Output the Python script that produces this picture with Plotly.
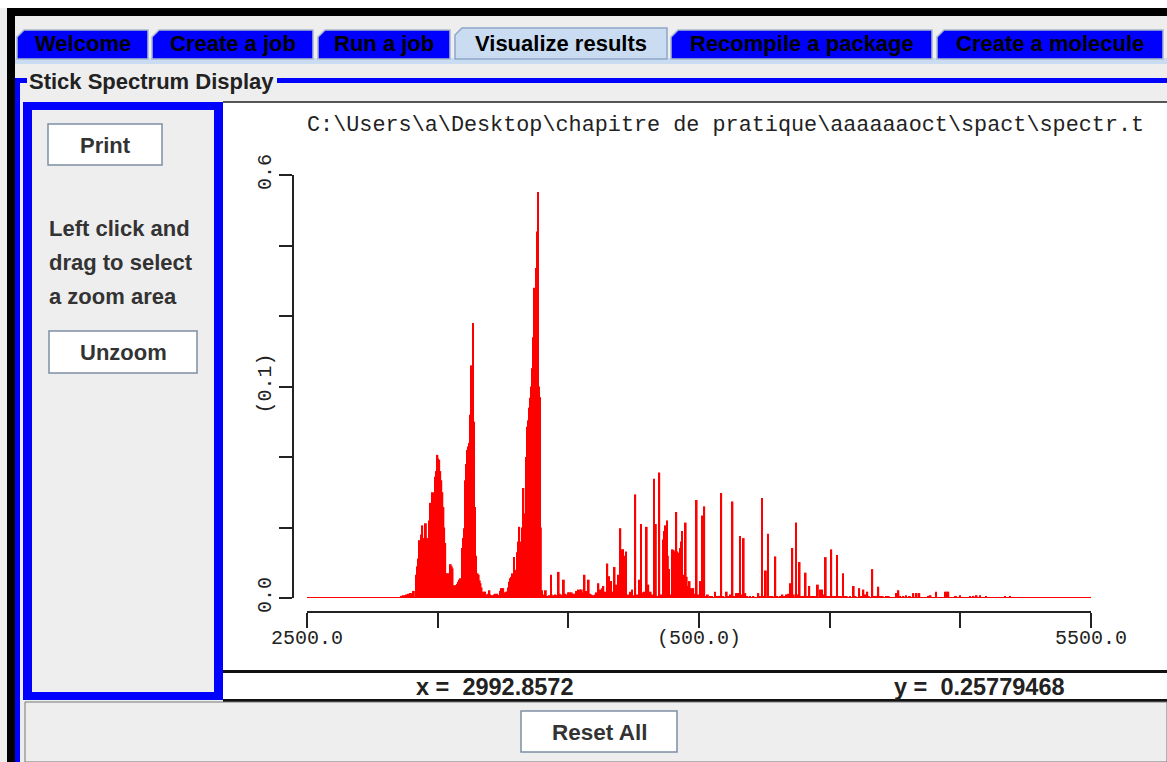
import plotly.graph_objects as go

W, H = 1167, 762

# ---------------- data ----------------
wavenumber = [
    2862, 2869, 2875, 2881, 2888, 2894, 2900, 2909, 2917, 2922, 2926, 2932, 2937, 2941, 2945, 2949,
    2953, 2955, 2962, 2967, 2971, 2974, 2978, 2983, 2987, 2991, 2995, 2999, 3002, 3006, 3010, 3014,
    3018, 3022, 3025, 3029, 3034, 3039, 3045, 3050, 3054, 3057, 3062, 3068, 3073, 3076, 3080, 3085,
    3088, 3093, 3097, 3101, 3105, 3107, 3111, 3113, 3117, 3121, 3125, 3128, 3131, 3135, 3139, 3143,
    3147, 3149, 3153, 3157, 3161, 3164, 3168, 3172, 3177, 3182, 3186, 3190, 3194, 3198, 3201, 3205,
    3209, 3213, 3217, 3221, 3224, 3228, 3232, 3236, 3240, 3244, 3247, 3251, 3255, 3259, 3263, 3267,
    3270, 3274, 3278, 3282, 3287, 3292, 3296, 3300, 3305, 3309, 3312, 3316, 3320, 3324, 3328, 3332,
    3335, 3339, 3342, 3346, 3348, 3352, 3356, 3360, 3362, 3366, 3369, 3372, 3376, 3380, 3384, 3388,
    3392, 3395, 3399, 3403, 3407, 3411, 3414, 3418, 3422, 3427, 3434, 3437, 3443, 3446, 3450, 3455,
    3463, 3467, 3471, 3476, 3483, 3487, 3494, 3500, 3506, 3513, 3519, 3525, 3532, 3538,
    3545, 3551, 3557, 3562, 3570, 3578, 3583, 3588, 3596, 3602, 3608, 3615, 3619, 3624, 3629, 3634,
    3642, 3649, 3656, 3663, 3670, 3677, 3685, 3693, 3699, 3705, 3709, 3713, 3717, 3721, 3728, 3736,
    3744, 3750, 3756, 3764, 3772, 3778, 3787, 3793, 3800, 3806, 3815, 3821, 3828, 3835, 3842, 3848,
    3857, 3863, 3867, 3871, 3878, 3881, 3885, 3892, 3899, 3903, 3907, 3913, 3917, 3921, 3927, 3931,
    3935, 3941, 3949, 3953, 3957, 3964, 3972, 3978, 3985, 3991, 3997, 4006, 4013, 4020, 4027, 4034,
    4042, 4050, 4061, 4070, 4078, 4085, 4093, 4106, 4112, 4121, 4128, 4135, 4143, 4149, 4157, 4164,
    4171, 4177, 4185, 4195, 4208, 4227, 4233, 4241, 4249, 4256, 4264, 4272, 4282, 4292, 4300, 4310,
    4319, 4325, 4335, 4343, 4351, 4357, 4363, 4371, 4379, 4385, 4393, 4400, 4408, 4416, 4422, 4430,
    4438, 4446, 4455, 4463, 4471, 4477, 4485, 4492, 4500, 4506, 4514, 4522, 4528, 4536, 4543, 4551,
    4559, 4565, 4578, 4592, 4599, 4613, 4620, 4629, 4636, 4644, 4650, 4663, 4671, 4680, 4686, 4693,
    4703, 4718, 4726, 4754, 4763, 4770, 4782, 4792, 4807, 4820, 4833, 4843, 4877, 4886, 4907, 4941,
    4948, 4954, 4983, 4999, 5037, 5050, 5062, 5075, 5098, 5171, 5190,
]
intensity = [
    0.003, 0.004, 0.004, 0.005, 0.006, 0.007, 0.007, 0.010, 0.033, 0.045, 0.056, 0.082, 0.090, 0.103, 0.085, 0.078,
    0.090, 0.106, 0.085, 0.110, 0.129, 0.135, 0.150, 0.096, 0.150, 0.172, 0.180, 0.203, 0.198, 0.196, 0.180, 0.167,
    0.150, 0.129, 0.100, 0.078, 0.035, 0.035, 0.035, 0.048, 0.045, 0.042, 0.018, 0.018, 0.018, 0.020, 0.023, 0.026,
    0.028, 0.071, 0.085, 0.099, 0.130, 0.167, 0.190, 0.210, 0.215, 0.220, 0.260, 0.292, 0.330, 0.390, 0.250, 0.129,
    0.060, 0.035, 0.035, 0.033, 0.025, 0.021, 0.015, 0.009, 0.009, 0.009, 0.005, 0.002, 0.006, 0.011, 0.005, 0.004,
    0.003, 0.004, 0.005, 0.006, 0.005, 0.006, 0.004, 0.004, 0.010, 0.014, 0.014, 0.014, 0.008, 0.007, 0.009, 0.009,
    0.015, 0.023, 0.028, 0.030, 0.035, 0.058, 0.040, 0.028, 0.065, 0.080, 0.101, 0.080, 0.054, 0.100, 0.156, 0.120,
    0.106, 0.200, 0.243, 0.248, 0.252, 0.270, 0.284, 0.300, 0.326, 0.370, 0.406, 0.440, 0.468, 0.520, 0.576, 0.300,
    0.285, 0.100, 0.011, 0.005, 0.002, 0.008, 0.011, 0.003, 0.002, 0.004, 0.033, 0.005, 0.002, 0.004, 0.005, 0.004,
    0.037, 0.006, 0.005, 0.004, 0.026, 0.006, 0.005, 0.008, 0.008, 0.008, 0.006, 0.006, 0.010, 0.012,
    0.012, 0.012, 0.008, 0.033, 0.010, 0.026, 0.006, 0.005, 0.004, 0.005, 0.008, 0.021, 0.010, 0.012, 0.014, 0.017,
    0.009, 0.049, 0.031, 0.024, 0.009, 0.044, 0.019, 0.033, 0.099, 0.069, 0.069, 0.058, 0.060, 0.066, 0.005, 0.009,
    0.012, 0.004, 0.147, 0.005, 0.026, 0.105, 0.008, 0.009, 0.101, 0.019, 0.009, 0.005, 0.169, 0.105, 0.003, 0.178,
    0.005, 0.083, 0.095, 0.103, 0.110, 0.060, 0.041, 0.005, 0.069, 0.068, 0.066, 0.122, 0.066, 0.064, 0.071, 0.080,
    0.095, 0.033, 0.107, 0.030, 0.017, 0.024, 0.014, 0.014, 0.006, 0.139, 0.005, 0.024, 0.117, 0.130, 0.002, 0.005,
    0.003, 0.003, 0.009, 0.002, 0.003, 0.149, 0.002, 0.009, 0.002, 0.005, 0.137, 0.002, 0.007, 0.007, 0.088, 0.005,
    0.085, 0.007, 0.002, 0.002, 0.002, 0.007, 0.002, 0.142, 0.002, 0.039, 0.091, 0.002, 0.002, 0.059, 0.002, 0.002,
    0.005, 0.002, 0.005, 0.006, 0.021, 0.071, 0.005, 0.107, 0.005, 0.051, 0.002, 0.003, 0.036, 0.002, 0.017, 0.002,
    0.002, 0.002, 0.019, 0.012, 0.012, 0.005, 0.058, 0.002, 0.002, 0.069, 0.002, 0.002, 0.061, 0.002, 0.002, 0.035,
    0.002, 0.002, 0.002, 0.017, 0.002, 0.014, 0.002, 0.012, 0.005, 0.009, 0.002, 0.041, 0.002, 0.003, 0.016, 0.002,
    0.002, 0.002, 0.002, 0.007, 0.011, 0.003, 0.003, 0.004, 0.002, 0.007, 0.007, 0.007, 0.003, 0.004, 0.009, 0.009,
    0.009, 0.009, 0.002, 0.004, 0.002, 0.003, 0.004, 0.004, 0.002, 0.002, 0.002,
]

x_range = [2500, 5500]
y_range = [0.0, 0.6]
x_tick_vals = [2500, 3000, 3500, 4000, 4500, 5000, 5500]
x_tick_text = ["2500.0", "", "", "(500.0)", "", "", "5500.0"]
y_tick_vals = [0.0, 0.1, 0.2, 0.3, 0.4, 0.5, 0.6]
y_tick_text = ["0.0", "", "", "(0.1)", "", "", "0.6"]

file_title = r"C:\Users\a\Desktop\chapitre de pratique\aaaaaaoct\spact\spectr.t"
tab_labels = ["Welcome", "Create a job", "Run a job", "Visualize results",
              "Recompile a package", "Create a molecule"]
selected_tab = "Visualize results"
panel_title = "Stick Spectrum Display"
help_lines = ["Left click and", "drag to select", "a zoom area"]
cursor_x = "2992.8572"
cursor_y = "0.25779468"

# ---------------- layout helpers ----------------
def px(x):
    return x / W

def py(y):
    return 1 - y / H

shapes = []
annotations = []

def rect(x0, y0, x1, y1, fill, line=None, lw=0, layer="below"):
    shapes.append(dict(type="rect", xref="paper", yref="paper",
                       x0=px(x0), x1=px(x1), y0=py(y1), y1=py(y0),
                       fillcolor=fill, layer=layer,
                       line=dict(color=line or fill, width=lw)))

def label(x, y, text, size=22, color="#000000", family="Liberation Sans",
          xanchor="left", bold=True, textangle=0):
    annotations.append(dict(xref="paper", yref="paper", x=px(x), y=py(y),
                            text=("<b>%s</b>" % text) if bold else text,
                            showarrow=False, xanchor=xanchor, yanchor="middle",
                            textangle=textangle,
                            font=dict(family=family, size=size, color=color)))

BLUE = "#0000FF"
GREY = "#EEEEEE"

# window frame
rect(0, 0, W, 8, "#FFFFFF")
rect(7, 8, W, 16, "#000000")
rect(7, 8, 15, H, "#000000")

# tabs
tab_pos = [(17, 148), (152, 313), (318, 450), (455, 667), (671, 932), (937, 1163)]
rect(15, 58, W, 64, "#C9DCF2")
for (x0, x1), name in zip(tab_pos, tab_labels):
    sel = name == selected_tab
    top = 28 if sel else 30
    fill = "#C9DCF2" if sel else BLUE
    path = (f"M {px(x0)},{py(59)} L {px(x0)},{py(top + 7)} L {px(x0 + 7)},{py(top)} "
            f"L {px(x1)},{py(top)} L {px(x1)},{py(59)} Z")
    shapes.append(dict(type="path", xref="paper", yref="paper", path=path,
                       fillcolor=fill, layer="below",
                       line=dict(color="#8FA7C7" if sel else "#A9B8CC", width=1.5)))
    label((x0 + x1) / 2, 43, name, size=22, xanchor="center")

# titled border "Stick Spectrum Display"
rect(15, 78, 20, H, BLUE)
rect(15, 78, 27, 83, BLUE)
rect(277, 78, W, 83, BLUE)
label(27, 81, panel_title, size=22, color="#222222")

# left control panel
rect(23, 102, 223, 700, BLUE)
rect(32, 110, 214, 692, GREY)
rect(48, 124, 162, 165, "#FFFFFF", "#7E8FA3", 1.5)
label(105, 145, "Print", size=22, color="#333333", xanchor="center")
for i, t in enumerate(help_lines):
    label(47, 228 + 34 * i, t, size=22, color="#333333")
rect(49, 331, 197, 373, "#FFFFFF", "#7E8FA3", 1.5)
label(123, 353, "Unzoom", size=22, color="#333333", xanchor="center")

# plot panel and status bar
rect(223, 102, W, 670, "#FFFFFF")
rect(223, 101, W, 103, "#555555")
rect(223, 670, W, 673, "#111111")
rect(223, 673, W, 699, "#FFFFFF")
rect(223, 699, W, 702, "#111111")
label(414, 687, "x =\u00a0\u00a0" + cursor_x, size=23.5, color="#222222")
label(892, 687, "y =\u00a0\u00a0" + cursor_y, size=23.5, color="#222222")

# bottom panel
rect(25, 702, W, H, GREY, "#777777", 1)
rect(521, 711, 677, 752, "#FFFFFF", "#7E8FA3", 1.5)
label(599, 732, "Reset All", size=22.5, color="#333333", xanchor="center")

# chart title
annotations.append(dict(xref="paper", yref="paper", x=px(725), y=py(125),
                        text=file_title, showarrow=False, xanchor="center", yanchor="middle",
                        font=dict(family="Liberation Mono", size=21.8, color="#222222")))

# ---------------- figure ----------------
fig = go.Figure()
fig.add_trace(go.Scatter(x=x_range, y=[0, 0], mode="lines",
                         line=dict(color="#FF0000", width=2), hoverinfo="skip",
                         showlegend=False, cliponaxis=False))
fig.add_trace(go.Bar(x=wavenumber, y=intensity, width=7.0,
                     marker=dict(color="#FF0000", line=dict(width=0)),
                     showlegend=False))

tickfont = dict(family="Liberation Mono", size=20, color="#222222")
fig.update_layout(
    width=W, height=H,
    margin=dict(l=0, r=0, t=0, b=0, pad=0, autoexpand=False),
    paper_bgcolor=GREY,
    plot_bgcolor="rgba(0,0,0,0)",
    showlegend=False,
    shapes=shapes,
    annotations=annotations,
    xaxis=dict(domain=[px(307), px(1091)], range=x_range, anchor="free",
               position=py(612), showgrid=False, zeroline=False, automargin=False,
               showline=True, linecolor="#222222", linewidth=2,
               ticks="outside", ticklen=15, tickwidth=2, tickcolor="#222222",
               tickmode="array", tickvals=x_tick_vals, ticktext=x_tick_text,
               ticklabelstandoff=-8,
               tickfont=tickfont, fixedrange=True),
    yaxis=dict(domain=[py(598), py(175)], range=y_range, anchor="free",
               position=px(293), showgrid=False, zeroline=False, automargin=False,
               showline=True, linecolor="#222222", linewidth=2,
               ticks="outside", ticklen=13, tickwidth=2, tickcolor="#222222",
               tickmode="array", tickvals=y_tick_vals, ticktext=y_tick_text,
               tickangle=-90, tickfont=tickfont, fixedrange=True),
)

fig.write_html("out.html", config={"displayModeBar": False},
               post_script="document.body.style.margin='0';")
